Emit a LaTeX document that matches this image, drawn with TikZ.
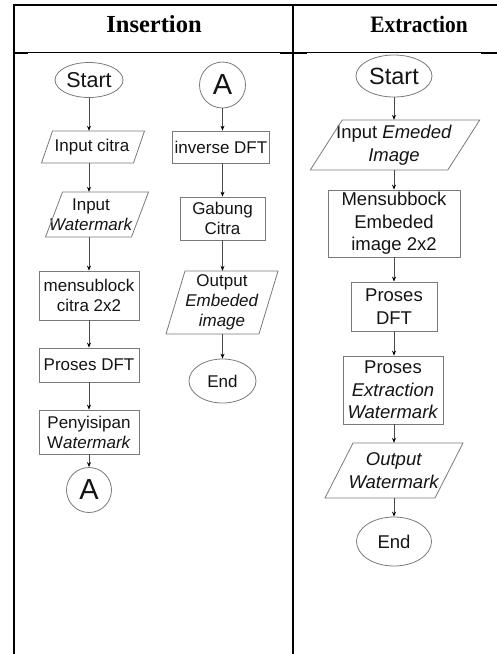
\documentclass[tikz,border=0pt]{standalone}
\usepackage{fontspec}
\setmainfont{Liberation Sans}
\newfontfamily\hdrfont{Liberation Serif}
\usetikzlibrary{shapes.geometric,arrows.meta}
\definecolor{boxgray}{HTML}{7A7A7A}
\definecolor{arrgray}{HTML}{4A4A4A}
\definecolor{txt}{HTML}{141414}
\newcommand\insfont{\fontsize{17}{20}\selectfont}
\newcommand\extfont{\fontsize{18.5}{22.5}\selectfont}
\newcommand\ioshape[8]{%
  \node[io, minimum width=#4pt, minimum height=#5pt] (#1) at (#2,#3) {#8};
  \draw[shapeline] ({#2+#7-#4/2+#6/2},{#3-#5/2}) -- ({#2+#7+#4/2+#6/2},{#3-#5/2})
    -- ({#2+#7+#4/2-#6/2},{#3+#5/2}) -- ({#2+#7-#4/2-#6/2},{#3+#5/2}) -- cycle;
}
\tikzset{
  shapeline/.style={draw=boxgray, line width=0.8pt},
  box/.style={shapeline, inner sep=0pt, align=center, text=txt},
  proc/.style={box, rectangle},
  term/.style={box, ellipse},
  conn/.style={box, circle},
  io/.style={inner sep=0pt, align=center, rectangle, text=txt},
  arr/.style={draw=arrgray, line width=0.7pt, -{Stealth[length=5pt,width=4pt,color=black]}},
  border/.style={line width=2.4pt, black},
  hdr/.style={font=\hdrfont\bfseries\fontsize{24.5}{28}\selectfont, inner sep=0pt, anchor=base}
}
\begin{document}
\begin{tikzpicture}[x=1pt,y=-1pt]
\useasboundingbox (0,0) rectangle (497,654);
% table
\draw[border] (14,655) -- (14,5) -- (498,5);
\draw[border] (293,5) -- (293,655);
\draw[line width=1pt] (14,52) -- (497,52);
\draw[line width=1.8pt] (14,53) -- (28,53);
\draw[line width=1.8pt] (280,53) -- (307,53);
\draw[line width=1.8pt] (481,53) -- (497,53);
\node[hdr] (h1) at (154,32) {Insertion};
\node[hdr, font=\hdrfont\bfseries\fontsize{23.5}{28}\selectfont, xscale=0.91] (h2) at (419,32) {Extraction};

% Insertion, left flow
\begin{scope}[every node/.append style={font=\insfont}]
\node[term, minimum width=68pt, minimum height=35pt, font=\fontsize{21.5}{24}\selectfont] (s1) at (89,80) {Start};
\ioshape{in1}{92}{147}{92}{32}{11}{1}{Input citra}
\ioshape{in2}{91}{214.5}{86}{45}{17}{6}{Input\\\textit{Watermark}}
\node[proc, minimum width=100pt, minimum height=49pt] (b1) at (89,295.5) {mensublock\\citra 2x2};
\node[proc, minimum width=100pt, minimum height=34pt] (b2) at (89,365) {Proses DFT};
\node[proc, minimum width=100pt, minimum height=44pt] (b3) at (89,432) {Penyisipan\\W\textit{atermark}};
\node[conn, minimum size=45pt, font=\fontsize{29}{30}\selectfont] (a1) at (89,490) {A};

\draw[arr] (s1.south) -- (in1.north -| s1);
\draw[arr] (in1.south -| s1) -- (in2.north -| s1);
\draw[arr] (in2.south -| s1) -- (b1.north);
\draw[arr] (b1.south) -- (b2.north);
\draw[arr] (b2.south) -- (b3.north);
\draw[arr] (b3.south) -- (a1.north);

% Insertion, right flow
\node[conn, minimum size=46pt, font=\fontsize{29}{30}\selectfont] (a2) at (222.5,85) {A};
\node[proc, minimum width=97pt, minimum height=32pt] (b4) at (221,147) {inverse DFT};
\node[proc, minimum width=85pt, minimum height=43pt] (b5) at (222.5,218.5) {Gabung\\Citra};
\ioshape{o1}{222}{302.5}{93}{63}{19}{0}{Output\\\textit{Embeded}\\\textit{image}}
\node[term, minimum width=67pt, minimum height=44pt] (e1) at (222.5,381) {End};

\draw[arr] (a2.south) -- (b4.north -| a2);
\draw[arr] (b4.south -| a2) -- (b5.north -| a2);
\draw[arr] (b5.south -| a2) -- (o1.north -| a2);
\draw[arr] (o1.south -| a2) -- (e1.north -| a2);
\end{scope}

% Extraction
\begin{scope}[every node/.append style={font=\extfont}]
\node[term, minimum width=76pt, minimum height=42pt, font=\fontsize{23.5}{26}\selectfont] (s2) at (394,76) {Start};
\ioshape{in3}{394}{145}{137.5}{50}{32}{1}{Input \textit{Emeded}\\\textit{Image}}
\node[proc, minimum width=132pt, minimum height=67pt] (b6) at (394,223.5) {Mensubbock\\Embeded\\image 2x2};
\node[proc, minimum width=86pt, minimum height=49pt] (b7) at (394,306.5) {Proses\\DFT};
\node[proc, minimum width=100pt, minimum height=68pt] (b8) at (393,390) {Proses\\\textit{Extraction}\\\textit{Watermark}};
\ioshape{o2}{394}{470.5}{110}{55}{28}{0}{\textit{Output}\\\textit{Watermark}}
\node[term, minimum width=75pt, minimum height=49pt] (e2) at (394,541.5) {End};

\draw[arr] (s2.south) -- (in3.north -| s2);
\draw[arr] (in3.south -| s2) -- (b6.north -| s2);
\draw[arr] (b6.south -| s2) -- (b7.north -| s2);
\draw[arr] (b7.south -| s2) -- (b8.north -| s2);
\draw[arr] (b8.south -| s2) -- (o2.north -| s2);
\draw[arr] (o2.south -| s2) -- (e2.north -| s2);
\end{scope}
\end{tikzpicture}
\end{document}
